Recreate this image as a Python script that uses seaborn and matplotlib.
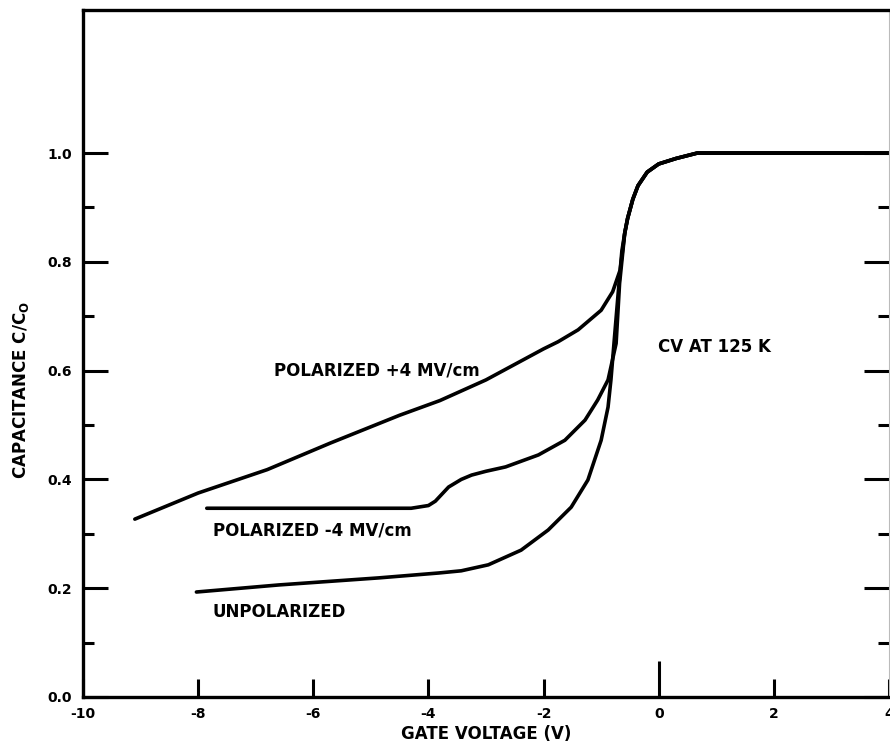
import numpy as np
import pandas as pd
import matplotlib
matplotlib.use("Agg")
import matplotlib.pyplot as plt
import seaborn as sns

# ---- data ----
top_x = [-0.59, -0.54, -0.45, -0.36, -0.2, 0.0, 0.3, 0.67, 1.0, 4.0]
top_y = [0.853, 0.88, 0.915, 0.94, 0.965, 0.98, 0.99, 1.0, 1.0, 1.0]

pos_x = [-9.1, -8.0, -6.8, -5.7, -4.5, -3.8, -3.0, -2.0, -1.75, -1.4, -1.0, -0.8, -0.67]
pos_y = [0.327, 0.375, 0.418, 0.467, 0.518, 0.545, 0.583, 0.640, 0.653, 0.675, 0.711, 0.745, 0.785]

neg_x = [-7.85, -5.0, -4.3, -4.0, -3.88, -3.65, -3.43, -3.25, -3.0, -2.66, -2.09, -1.63,
         -1.28, -1.06, -0.88, -0.74, -0.68]
neg_y = [0.347, 0.347, 0.347, 0.352, 0.36, 0.386, 0.40, 0.408, 0.415, 0.423, 0.445, 0.472,
         0.509, 0.546, 0.583, 0.65, 0.76]

unp_x = [-8.03, -6.6, -4.86, -3.82, -3.43, -2.96, -2.39, -1.92, -1.52, -1.23, -1.0, -0.88,
         -0.83, -0.71, -0.64]
unp_y = [0.193, 0.206, 0.219, 0.228, 0.232, 0.243, 0.27, 0.307, 0.349, 0.399, 0.472, 0.533,
         0.583, 0.735, 0.82]

series_names = ["POLARIZED +4 MV/cm", "POLARIZED -4 MV/cm", "UNPOLARIZED"]
x_ticks = [-10, -8, -6, -4, -2, 0, 2, 4]
x_tick_labels = ["-10", "-8", "-6", "-4", "-2", "0", "2", "4"]
y_ticks = [0.0, 0.2, 0.4, 0.6, 0.8, 1.0]
y_tick_labels = ["0.0", "0.2", "0.4", "0.6", "0.8", "1.0"]
y_minor = [0.1, 0.3, 0.5, 0.7, 0.9]

frames = []
for name, xs, ys in [(series_names[0], pos_x, pos_y),
                     (series_names[1], neg_x, neg_y),
                     (series_names[2], unp_x, unp_y)]:
    frames.append(pd.DataFrame({"V": list(xs) + top_x, "C": list(ys) + top_y, "curve": name}))
df = pd.concat(frames, ignore_index=True)

sns.set_style("white")
plt.rcParams["font.family"] = ["DejaVu Sans"]
plt.rcParams["text.color"] = "black"
plt.rcParams["axes.labelcolor"] = "black"
plt.rcParams["xtick.color"] = "black"
plt.rcParams["ytick.color"] = "black"

fig = plt.figure(figsize=(8.9, 7.48), dpi=100)
ax = fig.add_axes([83 / 890, 1 - 697 / 748, (889 - 83) / 890, (697 - 10) / 748])

sns.lineplot(data=df, x="V", y="C", units="curve", estimator=None, sort=False,
             color="black", linewidth=2.6, ax=ax, legend=False)

ax.set_xlim(-10, -10 + (889 - 83) / 57.8)
ax.set_ylim(0, 1.263)

ax.set_xticks(x_ticks)
ax.set_xticklabels(x_tick_labels, fontsize=10, fontweight="bold")
ax.set_yticks(y_ticks)
ax.set_yticklabels(y_tick_labels, fontsize=10, fontweight="bold")
ax.set_yticks(y_minor, minor=True)

ax.tick_params(axis="x", direction="in", length=13, width=2.2, pad=7, top=False, bottom=True,
               colors="black")
ax.tick_params(axis="y", which="major", direction="in", length=18, width=2.2, pad=8,
               left=True, right=True, colors="black")
ax.tick_params(axis="y", which="minor", direction="in", length=8, width=2.2,
               left=True, right=True, colors="black")
# longer tick at 0 V
for t, v in zip(ax.xaxis.get_major_ticks(), x_ticks):
    if v == 0:
        t.tick1line.set_markersize(26)

for side in ["left", "bottom", "top"]:
    ax.spines[side].set_linewidth(2.4)
    ax.spines[side].set_color("black")
ax.spines["right"].set_linewidth(0.8)
ax.spines["right"].set_color("#bbbbbb")

ax.set_xlabel("GATE VOLTAGE (V)", fontsize=12, fontweight="bold", labelpad=3, color="black")
ax.set_ylabel(r"CAPACITANCE C/C$_\mathregular{O}$", fontsize=12, fontweight="bold", color="black")
ax.yaxis.set_label_coords(-0.064, 0.447)

txt_kw = dict(fontsize=12, fontweight="bold", va="center", ha="left", color="black")
ax.text(-6.68, 0.60, series_names[0], **txt_kw)
ax.text(-7.75, 0.307, series_names[1], **txt_kw)
ax.text(-7.75, 0.156, series_names[2], **txt_kw)
ax.text(-0.02, 0.643, "CV AT 125 K", **txt_kw)

fig.savefig("out.png", dpi=100)
